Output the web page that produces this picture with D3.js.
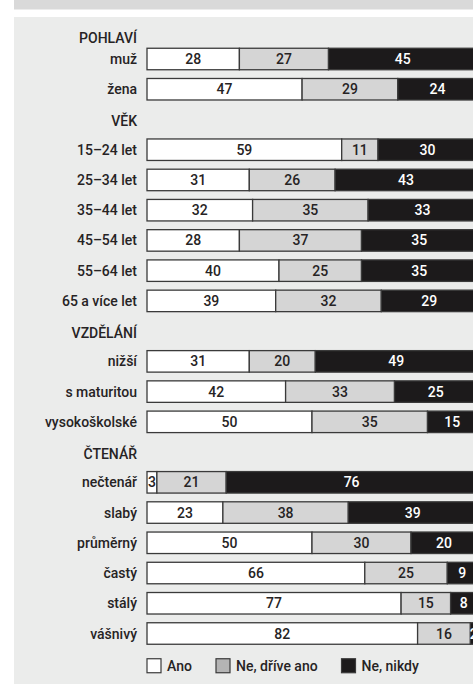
<!DOCTYPE html>
<html>
<head>
<meta charset="utf-8">
<script src="https://cdn.jsdelivr.net/npm/d3@7"></script>
<style>
  body { margin: 0; background: #fff; }
  svg text { font-family: Roboto, "Noto Sans", sans-serif; fill: #262324; }
</style>
</head>
<body>
<div id="chart"></div>
<script>
// data
var groups = ["POHLAVÍ", "VĚK", "VZDĚLÁNÍ", "ČTENÁŘ"];
var categories = ["muž", "žena",
    "15–24 let", "25–34 let", "35–44 let", "45–54 let", "55–64 let", "65 a více let",
    "nižší", "s maturitou", "vysokoškolské",
    "nečtenář", "slabý", "průměrný", "častý", "stálý", "vášnivý"];
var groupOf = [0, 0, 1, 1, 1, 1, 1, 1, 2, 2, 2, 3, 3, 3, 3, 3, 3];
var ano   = [28, 47, 59, 31, 32, 28, 40, 39, 31, 42, 50,  3, 23, 50, 66, 77, 82];
var drive = [27, 29, 11, 26, 35, 37, 25, 32, 20, 33, 35, 21, 38, 30, 25, 15, 16];
var nikdy = [45, 24, 30, 43, 33, 35, 35, 29, 49, 25, 15, 76, 39, 20,  9,  8,  2];
var seriesNames = ["Ano", "Ne, dříve ano", "Ne, nikdy"];
var seriesFill = ["#ffffff", "#d5d5d5", "#1c1a1b"];
var legendFill = ["#ffffff", "#b4b4b4", "#1c1a1b"];

var svgWidth = 473;
var svgHeight = 685;

var svg = d3.select("#chart")
    .append("svg")
    .attr("width", svgWidth)
    .attr("height", svgHeight);

// background: title band (cut off) and panel
svg.append("rect").attr("x", 14).attr("y", 0).attr("width", svgWidth - 14).attr("height", 9.5).attr("fill", "#d9d9d9");
svg.append("rect").attr("x", 14).attr("y", 17).attr("width", svgWidth - 14).attr("height", 667).attr("fill", "#ebeceb");

// build the row list: group header followed by its rows
var items = [];
groups.forEach(function(g, gi) {
    items.push({type: "header", label: g, gi: gi});
    categories.forEach(function(c, i) {
        if (groupOf[i] === gi) {
            items.push({type: "bar", label: c, values: [ano[i], drive[i], nikdy[i]]});
        }
    });
});
// first header is squeezed against the panel top, the rest take a full step
var slot = 0;
items.forEach(function(d, i) {
    if (i === 0) { d.slot = -1; } else { d.slot = slot++; }
});

var y = d3.scaleLinear().domain([0, slot - 1]).range([59, 633.5]);
var x = d3.scaleLinear().domain([0, 100]).range([147, 477]);
var barH = 21.5;
var fontSize = "14px";

var labelX = 137;

var rows = svg.append("g");

rows.selectAll("text.lab")
    .data(items)
    .enter()
    .append("text")
    .attr("class", "lab")
    .attr("x", labelX)
    .attr("y", function(d) {
        if (d.slot < 0) return y(0) - 21;
        return d.type === "header" ? y(d.slot) + 1.5 : y(d.slot);
    })
    .attr("dy", "0.36em")
    .attr("text-anchor", "end")
    .style("font-size", fontSize)
    .style("font-weight", 500)
    .text(function(d) { return d.label; });

var bars = rows.selectAll("g.bar")
    .data(items.filter(function(d) { return d.type === "bar"; }))
    .enter()
    .append("g")
    .attr("class", "bar")
    .attr("transform", function(d) { return "translate(0," + (y(d.slot) - barH / 2) + ")"; });

bars.each(function(d) {
    var g = d3.select(this);
    var segs = [];
    var acc = 0;
    d.values.forEach(function(v, k) {
        segs.push({k: k, v: v, x0: acc, x1: acc + v});
        acc += v;
    });
    g.selectAll("rect.seg")
        .data(segs)
        .enter()
        .append("rect")
        .attr("class", "seg")
        .attr("x", function(s) { return x(s.x0); })
        .attr("width", function(s) { return x(s.x1) - x(s.x0); })
        .attr("height", barH)
        .attr("fill", function(s) { return seriesFill[s.k]; })
        .attr("stroke", "#3a3a3a")
        .attr("stroke-width", 1.3);
    g.selectAll("text.val")
        .data(segs)
        .enter()
        .append("text")
        .attr("class", "val")
        .attr("x", function(s) { return (x(s.x0) + x(s.x1)) / 2; })
        .attr("y", barH / 2)
        .attr("dy", "0.36em")
        .attr("text-anchor", "middle")
        .style("font-size", fontSize)
        .style("font-weight", 500)
        .style("fill", function(s) { return s.k === 2 ? "#ffffff" : "#262324"; })
        .text(function(s) { return s.v; });
});

// legend
var legendY = y(slot) + 2;
var legendX = [147, 216, 341.5];
var legend = svg.append("g")
    .selectAll("g")
    .data(seriesNames)
    .enter()
    .append("g")
    .attr("transform", function(d, i) { return "translate(" + legendX[i] + "," + legendY + ")"; });
legend.append("rect")
    .attr("x", 0)
    .attr("y", -7)
    .attr("width", 14)
    .attr("height", 14)
    .attr("fill", function(d, i) { return legendFill[i]; })
    .attr("stroke", "#3a3a3a")
    .attr("stroke-width", 1.2);
legend.append("text")
    .attr("x", 20)
    .attr("y", 0)
    .attr("dy", "0.36em")
    .style("font-size", fontSize)
    .style("font-weight", 500)
    .text(function(d) { return d; });
</script>
</body>
</html>
